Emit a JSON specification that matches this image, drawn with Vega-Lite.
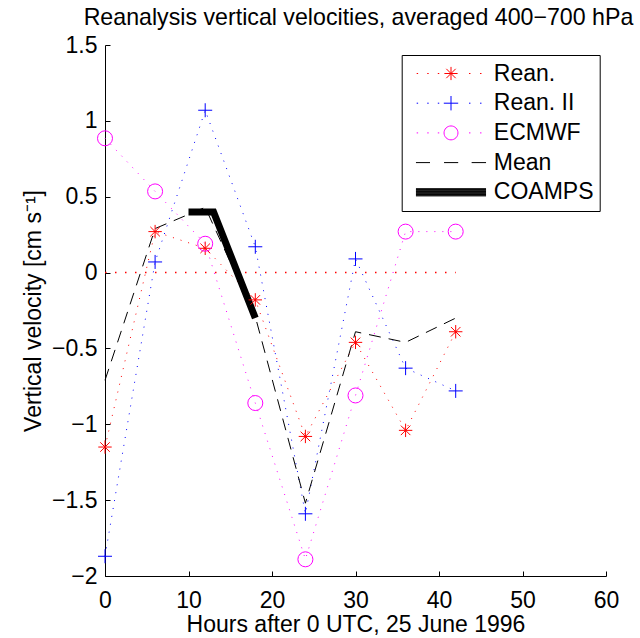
{
  "$schema": "https://vega.github.io/schema/vega-lite/v6.json",
  "width": 501,
  "height": 531,
  "autosize": {"type": "none"},
  "padding": {"left": 105, "top": 45, "right": 34, "bottom": 62},
  "background": "white",
  "title": {
    "text": "Reanalysis vertical velocities, averaged 400−700 hPa",
    "fontSize": 23.2,
    "font": "Liberation Sans",
    "fontWeight": "normal",
    "color": "black",
    "anchor": "middle",
    "frame": "group",
    "baseline": "alphabetic",
    "offset": -14,
    "dx": 3
  },
  "datasets": {
    "series": [
      {"series": "Rean.", "hour": 0, "w": -1.15},
      {"series": "Rean.", "hour": 6, "w": 0.27},
      {"series": "Rean.", "hour": 12, "w": 0.16},
      {"series": "Rean.", "hour": 18, "w": -0.18},
      {"series": "Rean.", "hour": 24, "w": -1.08},
      {"series": "Rean.", "hour": 30, "w": -0.46},
      {"series": "Rean.", "hour": 36, "w": -1.04},
      {"series": "Rean.", "hour": 42, "w": -0.39},
      {"series": "Rean. II", "hour": 0, "w": -1.87},
      {"series": "Rean. II", "hour": 6, "w": 0.07},
      {"series": "Rean. II", "hour": 12, "w": 1.07},
      {"series": "Rean. II", "hour": 18, "w": 0.17},
      {"series": "Rean. II", "hour": 24, "w": -1.59},
      {"series": "Rean. II", "hour": 30, "w": 0.09},
      {"series": "Rean. II", "hour": 36, "w": -0.63},
      {"series": "Rean. II", "hour": 42, "w": -0.78},
      {"series": "ECMWF", "hour": 0, "w": 0.885},
      {"series": "ECMWF", "hour": 6, "w": 0.535},
      {"series": "ECMWF", "hour": 12, "w": 0.19},
      {"series": "ECMWF", "hour": 18, "w": -0.86},
      {"series": "ECMWF", "hour": 24, "w": -1.89},
      {"series": "ECMWF", "hour": 30, "w": -0.81},
      {"series": "ECMWF", "hour": 36, "w": 0.27},
      {"series": "ECMWF", "hour": 42, "w": 0.27},
      {"series": "Mean", "hour": 0, "w": -0.71},
      {"series": "Mean", "hour": 6, "w": 0.29},
      {"series": "Mean", "hour": 12, "w": 0.43},
      {"series": "Mean", "hour": 18, "w": -0.29},
      {"series": "Mean", "hour": 24, "w": -1.52},
      {"series": "Mean", "hour": 30, "w": -0.39},
      {"series": "Mean", "hour": 36, "w": -0.46},
      {"series": "Mean", "hour": 42, "w": -0.30},
      {"series": "COAMPS", "hour": 10, "w": 0.40},
      {"series": "COAMPS", "hour": 13, "w": 0.40},
      {"series": "COAMPS", "hour": 18, "w": -0.30}
    ],
    "zero": [
      {"hour": 0, "w": 0},
      {"hour": 42, "w": 0}
    ]
  },
  "encoding": {
    "x": {
      "field": "hour", "type": "quantitative",
      "scale": {"domain": [0, 60], "nice": false, "zero": false},
      "axis": {
        "title": "Hours after 0 UTC, 25 June 1996",
        "values": [0, 10, 20, 30, 40, 50, 60],
        "format": "d",
        "tickSize": -5,
        "labelPadding": 18,
        "titleX": 250.5,
        "titleY": 55,
        "titleBaseline": "alphabetic"
      }
    },
    "y": {
      "field": "w", "type": "quantitative",
      "scale": {"domain": [-2, 1.5], "nice": false, "zero": false},
      "axis": {
        "title": "Vertical velocity [cm s⁻¹]",
        "values": [-2, -1.5, -1, -0.5, 0, 0.5, 1, 1.5],
        "format": "~g",
        "tickSize": -5,
        "labelPadding": 13,
        "titleX": -64.5,
        "titleY": 265.5,
        "titleAngle": -90,
        "titleBaseline": "alphabetic"
      }
    }
  },
  "layer": [
    {
      "data": {"name": "zero"},
      "mark": {"type": "line", "color": "#ff0000", "strokeWidth": 1.5, "strokeDash": [1.5, 8.5]},
      "encoding": {}
    },
    {
      "data": {"name": "series"},
      "transform": [{"filter": "datum.series === 'Rean.'"}],
      "mark": {"type": "line", "color": "#ff0000", "strokeWidth": 1, "strokeDash": [1, 7]},
      "encoding": {}
    },
    {
      "data": {"name": "series"},
      "transform": [{"filter": "datum.series === 'Rean. II'"}],
      "mark": {"type": "line", "color": "#0000ff", "strokeWidth": 1, "strokeDash": [1, 7]},
      "encoding": {}
    },
    {
      "data": {"name": "series"},
      "transform": [{"filter": "datum.series === 'ECMWF'"}],
      "mark": {"type": "line", "color": "#ff00ff", "strokeWidth": 1, "strokeDash": [1, 7]},
      "encoding": {}
    },
    {
      "data": {"name": "series"},
      "transform": [{"filter": "datum.series === 'Mean'"}],
      "mark": {"type": "line", "color": "black", "strokeWidth": 1, "strokeDash": [12, 8]},
      "encoding": {}
    },
    {
      "data": {"name": "series"},
      "transform": [{"filter": "datum.series === 'COAMPS'"}],
      "mark": {"type": "line", "color": "black", "strokeWidth": 7, "strokeJoin": "miter", "strokeCap": "butt"},
      "encoding": {}
    },
    {
      "data": {"name": "series"},
      "transform": [{"filter": "datum.series === 'Rean.'"}],
      "mark": {"type": "point", "filled": false, "color": "#ff0000", "strokeWidth": 1, "opacity": 1, "size": 180,
        "shape": "M-1,0H1M0,-1V1M-0.71,-0.71L0.71,0.71M-0.71,0.71L0.71,-0.71"}
    },
    {
      "data": {"name": "series"},
      "transform": [{"filter": "datum.series === 'Rean. II'"}],
      "mark": {"type": "point", "filled": false, "color": "#0000ff", "strokeWidth": 1, "opacity": 1, "size": 196,
        "shape": "M-1,0H1M0,-1V1"}
    },
    {
      "data": {"name": "series"},
      "transform": [{"filter": "datum.series === 'ECMWF'"}],
      "mark": {"type": "point", "filled": false, "color": "#ff00ff", "strokeWidth": 1, "opacity": 1, "size": 225,
        "shape": "circle"}
    },
    {
      "data": {"name": "series"},
      "mark": {"type": "point", "filled": false, "strokeWidth": 1, "opacity": 0, "size": 576},
      "encoding": {
        "color": {
          "field": "series", "type": "nominal",
          "scale": {"domain": ["Rean.", "Rean. II", "ECMWF", "Mean", "COAMPS"],
                    "range": ["#ff0000", "#0000ff", "#ff00ff", "black", "black"]},
          "legend": {
            "title": null,
            "orient": "none",
            "legendX": 296.7,
            "legendY": 10,
            "strokeColor": "black",
            "fillColor": "white",
            "padding": 6,
            "rowPadding": 4.7,
            "symbolSize": 576,
            "symbolStrokeWidth": 1,
            "symbolOpacity": 1,
            "symbolOffset": 30.8,
            "labelOffset": 30.3,
            "labelFont": "Liberation Sans",
            "labelFontSize": 23,
            "labelColor": "black",
            "labelLimit": 300
          }
        },
        "shape": {
          "field": "series", "type": "nominal",
          "scale": {"domain": ["Rean.", "Rean. II", "ECMWF", "Mean", "COAMPS"],
                    "range": [
                      "M-2.86,0h0.12M-1.98,0h0.12M-1.1,0h0.12M1.5,0h0.12M2.42,0h0.12M-0.55,0H0.55M0,-0.55V0.55M-0.39,-0.39L0.39,0.39M-0.39,0.39L0.39,-0.39",
                      "M-2.86,0h0.12M-1.98,0h0.12M-1.1,0h0.12M1.5,0h0.12M2.42,0h0.12M-0.6,0H0.6M0,-0.6V0.6",
                      "M-2.86,0h0.12M-1.98,0h0.12M-1.1,0h0.12M1.5,0h0.12M2.42,0h0.12M-0.58,0A0.58,0.58 0 1,0 0.58,0A0.58,0.58 0 1,0 -0.58,0",
                      "M-2.92,0H-1.75M-0.58,0H0.6M1.72,0H2.92",
                      "M-2.92,-0.3H2.92M-2.92,-0.24H2.92M-2.92,-0.18H2.92M-2.92,-0.12H2.92M-2.92,-0.06H2.92M-2.92,0H2.92M-2.92,0.06H2.92M-2.92,0.12H2.92M-2.92,0.18H2.92M-2.92,0.24H2.92M-2.92,0.3H2.92"
                    ]}
        }
      }
    }
  ],
  "config": {
    "view": {"stroke": null},
    "font": "Liberation Sans",
    "axis": {
      "grid": false,
      "domainColor": "black",
      "domainWidth": 1,
      "tickColor": "black",
      "tickWidth": 1,
      "labelColor": "black",
      "labelFont": "Liberation Sans",
      "labelFontSize": 23,
      "labelFlush": false,
      "labelOverlap": false,
      "titleColor": "black",
      "titleFont": "Liberation Sans",
      "titleFontSize": 23,
      "titleFontWeight": "normal"
    }
  }
}
